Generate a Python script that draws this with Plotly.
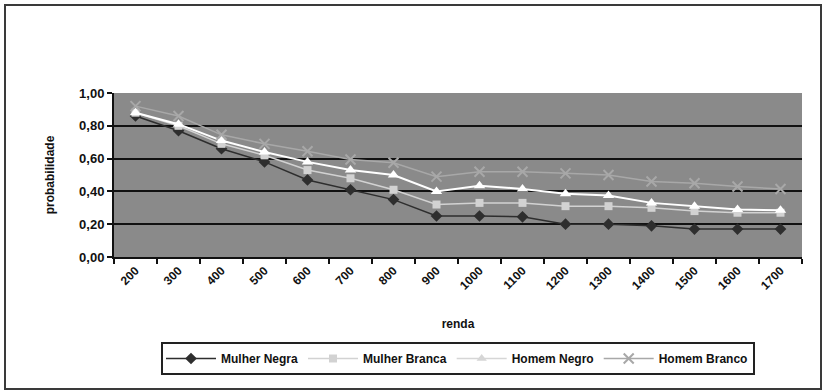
import plotly.graph_objects as go

renda = ["200", "300", "400", "500", "600", "700", "800", "900", "1000",
         "1100", "1200", "1300", "1400", "1500", "1600", "1700"]
mulher_negra = [0.86, 0.77, 0.66, 0.58, 0.47, 0.41, 0.35, 0.25, 0.25,
                0.245, 0.20, 0.20, 0.19, 0.17, 0.17, 0.17]
mulher_branca = [0.88, 0.80, 0.69, 0.62, 0.53, 0.48, 0.41, 0.32, 0.33,
                 0.33, 0.31, 0.31, 0.30, 0.28, 0.27, 0.27]
homem_negro = [0.88, 0.81, 0.71, 0.64, 0.58, 0.53, 0.50, 0.40, 0.435,
               0.415, 0.385, 0.375, 0.33, 0.31, 0.29, 0.285]
homem_branco = [0.92, 0.86, 0.745, 0.69, 0.645, 0.595, 0.575, 0.49, 0.52,
                0.52, 0.51, 0.50, 0.46, 0.45, 0.43, 0.415]
yticks = [0.0, 0.2, 0.4, 0.6, 0.8, 1.0]

FONT = "Liberation Sans"

fig = go.Figure()
fig.add_trace(go.Scatter(x=renda, y=mulher_negra, name="Mulher Negra",
                         mode="lines+markers",
                         line=dict(color="#2e2e2e", width=1.5),
                         marker=dict(symbol="diamond", size=9, color="#2e2e2e")))
fig.add_trace(go.Scatter(x=renda, y=mulher_branca, name="Mulher Branca",
                         mode="lines+markers",
                         line=dict(color="#d2d2d2", width=1.5),
                         marker=dict(symbol="square", size=8, color="#d2d2d2")))
# plotted white series (legend entry drawn by a light-grey proxy below)
fig.add_trace(go.Scatter(x=renda, y=homem_negro, name="Homem Negro",
                         mode="lines+markers", showlegend=False,
                         legendgroup="hn",
                         line=dict(color="#ffffff", width=2),
                         marker=dict(symbol="triangle-up", size=10, color="#ffffff")))
fig.add_trace(go.Scatter(x=[None], y=[None], name="Homem Negro",
                         mode="lines+markers", legendgroup="hn",
                         line=dict(color="#d6d6d6", width=1.5),
                         marker=dict(symbol="triangle-up", size=9, color="#d6d6d6")))
fig.add_trace(go.Scatter(x=renda, y=homem_branco, name="Homem Branco",
                         mode="lines+markers",
                         line=dict(color="#a8a8a8", width=1.5),
                         marker=dict(symbol="x-thin", size=10,
                                     line=dict(color="#a8a8a8", width=2))))

L, R, T, B = 114, 21, 93, 135
W, H = 823, 392
pw, ph = W - L - R, H - T - B

def px(x):
    return (x - L) / pw

def py(y):
    return (H - B - y) / ph

shapes = [
    dict(type="rect", xref="paper", yref="paper",
         x0=px(5), x1=px(821), y0=py(389), y1=py(5),
         line=dict(color="#3a3a3a", width=2), layer="below"),
    dict(type="line", xref="paper", yref="y", x0=0, x1=1, y0=0.2, y1=0.2,
         line=dict(color="#6a6a6a", width=1.5), layer="below"),
]

fig.update_layout(
    width=W, height=H,
    margin=dict(l=L, r=R, t=T, b=B),
    paper_bgcolor="white",
    plot_bgcolor="#8a8a8a",
    separators=",.",
    font=dict(family=FONT, size=11, color="#111111"),
    showlegend=True,
    legend=dict(orientation="h", x=0.5, xanchor="center",
                y=py(342), yanchor="top",
                bordercolor="#222222", borderwidth=2,
                bgcolor="white",
                font=dict(family=FONT, size=12, color="#111111", weight="bold"),
                itemwidth=50, tracegroupgap=0),
    shapes=shapes,
    xaxis=dict(type="category", range=[-0.5, 15.5],
               tickangle=-45, tickson="boundaries",
               ticks="outside", ticklen=5, tickcolor="#111111", tickwidth=1.5,
               showline=True, linecolor="#111111", linewidth=2,
               showgrid=False,
               tickfont=dict(family=FONT, size=12, color="#111111", weight="bold"),
               title=dict(text="renda", standoff=28,
                          font=dict(family=FONT, size=12, color="#111111", weight="bold"))),
    yaxis=dict(range=[0, 1.0], tickvals=yticks, tickformat=".2f",
               ticks="outside", ticklen=5, tickcolor="#111111", tickwidth=1.5,
               showline=True, linecolor="#111111", linewidth=2,
               showgrid=True, gridcolor="#111111", gridwidth=2,
               zeroline=False,
               tickfont=dict(family=FONT, size=13, color="#111111", weight="bold"),
               title=dict(text="probabilidade", standoff=22,
                          font=dict(family=FONT, size=12, color="#111111", weight="bold"))),
)

fig.write_html("out.html")
